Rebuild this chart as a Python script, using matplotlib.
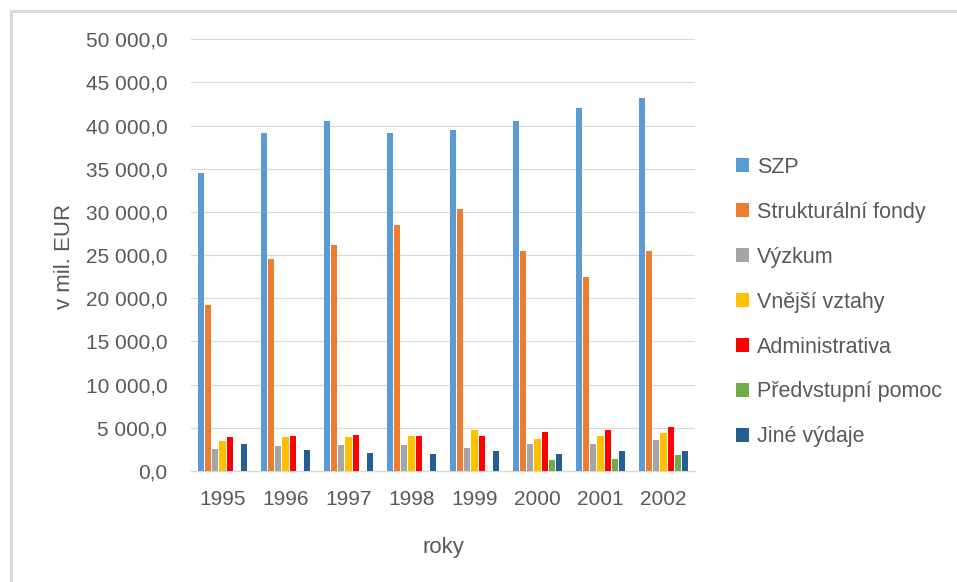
import matplotlib
matplotlib.use("Agg")
import matplotlib.pyplot as plt
from matplotlib.patches import Patch
from matplotlib.lines import Line2D
from matplotlib.ticker import FuncFormatter, MultipleLocator
import numpy as np

years = ["1995", "1996", "1997", "1998", "1999", "2000", "2001", "2002"]
series_names = ["SZP", "Strukturální fondy", "Výzkum", "Vnější vztahy",
                "Administrativa", "Předvstupní pomoc", "Jiné výdaje"]
szp = [34500, 39200, 40500, 39100, 39500, 40500, 42100, 43200]
strukturalni = [19200, 24500, 26200, 28500, 30400, 25500, 22500, 25500]
vyzkum = [2500, 2900, 3000, 3000, 2700, 3100, 3100, 3600]
vnejsi = [3500, 3900, 3900, 4100, 4700, 3700, 4100, 4400]
administrativa = [3900, 4000, 4200, 4100, 4100, 4500, 4700, 5100]
predvstupni = [0, 0, 0, 0, 0, 1300, 1400, 1800]
jine = [3100, 2400, 2100, 2000, 2300, 2000, 2300, 2300]

data = [szp, strukturalni, vyzkum, vnejsi, administrativa, predvstupni, jine]
colors = ["#5B9BD5", "#ED7D31", "#A5A5A5", "#FFC000", "#FF0000", "#70AD47", "#255E91"]

FONT = "Liberation Sans"
TXT = "#595959"
GRID = "#D9D9D9"

W, H = 957, 582
fig = plt.figure(figsize=(W / 100, H / 100), dpi=100)
fig.patch.set_facecolor("white")

left, right, bottom_px, top_px = 191, 695, 471, 39.3
ax = fig.add_axes([left / W, 1 - bottom_px / H, (right - left) / W, (bottom_px - top_px) / H])

x = np.arange(len(years))
n = len(data)
group_w = 50 / 63
slot = group_w / n
for i, (vals, c) in enumerate(zip(data, colors)):
    offs = -group_w / 2 + slot * (i + 0.5)
    ax.bar(x + offs, vals, width=slot * 0.86, color=c, zorder=3, linewidth=0)

ax.set_xlim(-0.5, len(years) - 0.5)
ax.set_ylim(0, 50000)
ax.yaxis.set_major_locator(MultipleLocator(5000))
ax.yaxis.set_major_formatter(FuncFormatter(
    lambda v, p: f"{v:,.1f}".replace(",", " ").replace(".", ",")))
ax.set_xticks(x)
ax.set_xticklabels(years)
ax.grid(axis="y", color=GRID, linewidth=0.8, zorder=0)
for s in ["top", "right", "left"]:
    ax.spines[s].set_visible(False)
ax.spines["bottom"].set_color(GRID)
ax.spines["bottom"].set_linewidth(1.0)
ax.tick_params(axis="both", length=0, colors=TXT, labelsize=15)
ax.tick_params(axis="y", pad=17)
ax.tick_params(axis="x", pad=14)
for lbl in ax.get_xticklabels() + ax.get_yticklabels():
    lbl.set_fontfamily(FONT)

fig.text(64 / W, 1 - 256 / H, "v mil. EUR", rotation=90, ha="center", va="center",
         fontsize=16, color=TXT, family=FONT)
fig.text(443 / W, 1 - 547 / H, "roky", ha="center", va="center",
         fontsize=16, color=TXT, family=FONT)

handles = [Patch(facecolor=c, edgecolor="none") for c in colors]
leg = fig.legend(handles, series_names, loc="upper left",
                 bbox_to_anchor=(736 / W, 1 - 157 / H), frameon=False,
                 prop={"family": FONT, "size": 15.5}, handlelength=0.62,
                 handleheight=0.62, handletextpad=0.35, labelspacing=1.11,
                 borderaxespad=0, borderpad=0)
for t in leg.get_texts():
    t.set_color(TXT)

# chart border (only top and left visible in the crop)
fig.add_artist(Line2D([11 / W, 1.0], [1 - 11 / H, 1 - 11 / H], color=GRID, linewidth=2.2,
                      transform=fig.transFigure))
fig.add_artist(Line2D([11 / W, 11 / W], [0.0, 1 - 11 / H], color=GRID, linewidth=2.2,
                      transform=fig.transFigure))

fig.savefig("out.png", dpi=100, facecolor="white")
